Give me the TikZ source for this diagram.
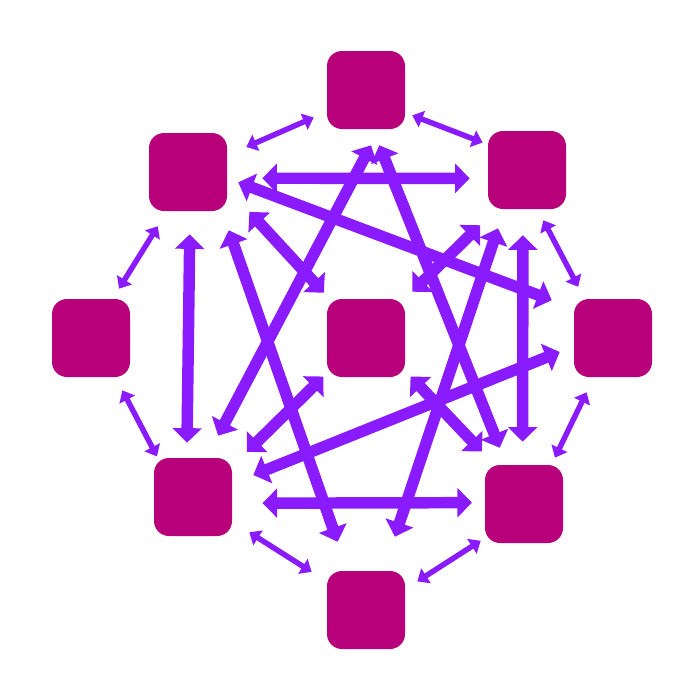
\documentclass[tikz,border=0pt]{standalone}
\usepackage{tikz}
\usetikzlibrary{arrows.meta}
\usepackage{xcolor}

\definecolor{hubcol}{RGB}{183,0,122}
\definecolor{arrcol}{RGB}{138,27,255}

\begin{document}
\begin{tikzpicture}[x=0.75pt,y=0.75pt,yscale=-1,xscale=1,
  hub/.style={fill=hubcol,draw=none,rounded corners=11.25pt,minimum width=58.5pt,minimum height=58.5pt,inner sep=0pt},
  bigarrow/.style={draw=arrcol,line width=8.6pt,{Triangle[length=10.9pt,width=21.5pt]}-{Triangle[length=10.9pt,width=21.5pt]}},
  smallarrow/.style={draw=arrcol,line width=4.1pt,{Triangle[length=7.8pt,width=12.8pt]}-{Triangle[length=7.8pt,width=12.8pt]}}]
            %set diagram size 700 x 700
            \useasboundingbox (0,0) rectangle (700,700);

            %Shape: Rounded Rect
            \node[hub] (t) at (366,90) {};
            \node[hub] (tl) at (188,172) {};
            \node[hub] (tr) at (527,170) {};
            \node[hub] (l) at (91,338) {};
            \node[hub] (c) at (366,338) {};
            \node[hub] (r) at (613,338) {};
            \node[hub] (bl) at (193,497) {};
            \node[hub] (br) at (524,504) {};
            \node[hub] (b) at (366,610) {};

            %Straight Lines: outer ring
            \draw[smallarrow,shorten <=15.6pt,shorten >=10.7pt] (tl.23) -- (t.-151);
            \draw[smallarrow,shorten <=5.6pt,shorten >=4.1pt] (t.-30) -- (tr.147);
            \draw[smallarrow,shorten <=9.3pt,shorten >=10.1pt] (tr.-75) -- (r.126);
            \draw[smallarrow,shorten <=13.2pt,shorten >=8.9pt] (tl.-118) -- (l.61);
            \draw[smallarrow,shorten <=11.1pt,shorten >=1.1pt] (l.-58) -- (bl.132);
            \draw[smallarrow,shorten <=12.5pt,shorten >=5.9pt] (r.-116) -- (br.55);
            \draw[smallarrow,shorten <=15.1pt,shorten >=13.4pt] (bl.-32) -- (b.144);
            \draw[smallarrow,shorten <=10.7pt,shorten >=3.6pt] (b.28) -- (br.-139);

            %Straight Lines: inner web
            \draw[bigarrow,shorten <=26.3pt,shorten >=13.5pt] (tl.-9) -- (tr.-168);
            \draw[bigarrow,shorten <=8.8pt,shorten >=17.6pt] (tl.-9) -- (r.143);
            \draw[bigarrow,shorten <=13.6pt,shorten >=18.7pt] (t.-71) -- (bl.71);
            \draw[bigarrow,shorten <=12.9pt,shorten >=13.7pt] (t.-80) -- (br.114);
            \draw[bigarrow,shorten <=17.3pt,shorten >=11.3pt] (tl.-87) -- (bl.99);
            \draw[bigarrow,shorten <=15.1pt,shorten >=23pt] (tl.-49) -- (b.115);
            \draw[bigarrow,shorten <=24.5pt,shorten >=6.1pt] (tl.-22) -- (c.133);
            \draw[bigarrow,shorten <=15.1pt,shorten >=26.9pt] (tr.-120) -- (b.66);
            \draw[bigarrow,shorten <=17.1pt,shorten >=7.5pt] (tr.-128) -- (c.45);
            \draw[bigarrow,shorten <=19.5pt,shorten >=17.3pt] (tr.-96) -- (br.92.5);
            \draw[bigarrow,shorten <=17pt,shorten >=11.3pt] (bl.19) -- (r.-168);
            \draw[bigarrow,shorten <=15.4pt,shorten >=3.4pt] (bl.38) -- (c.-138);
            \draw[bigarrow,shorten <=5.8pt,shorten >=13.7pt] (c.-40) -- (br.127);
            \draw[bigarrow,shorten <=22.7pt,shorten >=9.6pt] (bl.-9) -- (br.178.5);

\end{tikzpicture}
\end{document}
